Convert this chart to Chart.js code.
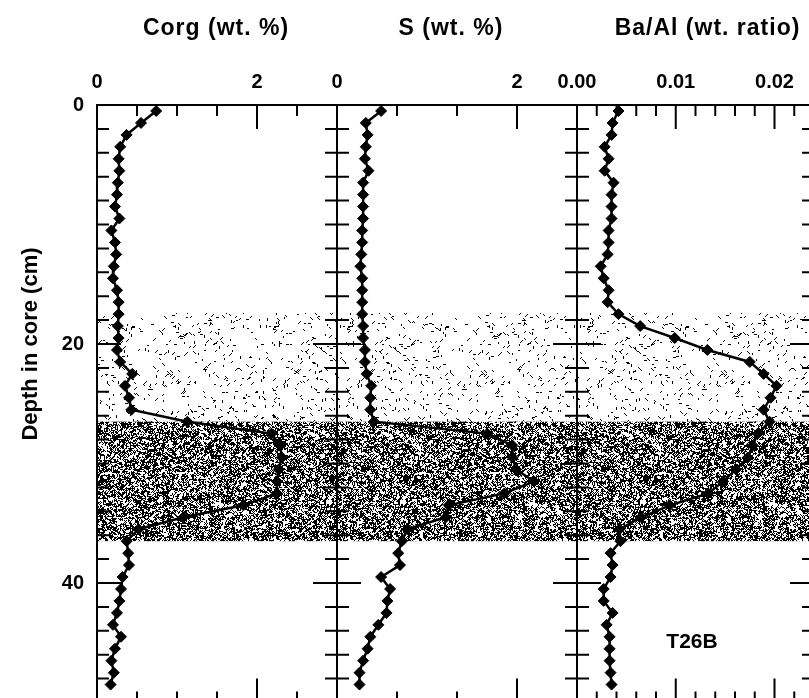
<!DOCTYPE html>
<html>
<head>
<meta charset="utf-8">
<title>T26B down-core profiles</title>
<script src="https://cdn.jsdelivr.net/npm/chart.js@4.4.1/dist/chart.umd.min.js"></script>
<style>
  html, body { margin: 0; padding: 0; background: #fff; overflow: hidden; }
  #fig { position: relative; width: 809px; height: 698px; overflow: hidden; background: #fff; }
  #fig canvas { position: absolute; top: 0; }
</style>
</head>
<body>
<div id="fig">
  <canvas id="panelCorg" width="360" height="712" style="left:0px"></canvas>
  <canvas id="panelS" width="286" height="712" style="left:314px"></canvas>
  <canvas id="panelBa" width="283" height="712" style="left:554px"></canvas>
</div>
<script>
// Sample depths, cm below the core top
const depthCm = [
  0.5, 1.5, 2.5, 3.5, 4.5, 5.5, 6.5, 7.5, 8.5, 9.5,
  10.5, 11.5, 12.5, 13.5, 14.5, 15.5, 16.5, 17.5, 18.5, 19.5,
  20.5, 21.5, 22.5, 23.5, 24.5, 25.5, 26.5, 27.5, 28.5, 29.5,
  30.5, 31.5, 32.5, 33.5, 34.5, 35.5, 36.5, 37.5, 38.5, 39.5,
  40.5, 41.5, 42.5, 43.5, 44.5, 45.5, 46.5, 47.5, 48.5
];
// Organic carbon, wt. %
const corg = [
  0.74, 0.55, 0.37, 0.29, 0.27, 0.28, 0.26, 0.25, 0.225, 0.28,
  0.18, 0.225, 0.24, 0.21, 0.20, 0.25, 0.27, 0.27, 0.26, 0.27,
  0.25, 0.29, 0.44, 0.35, 0.40, 0.43, 1.13, 2.18, 2.29, 2.31,
  2.27, 2.25, 2.25, 1.83, 1.08, 0.52, 0.37, 0.39, 0.40, 0.32,
  0.30, 0.28, 0.25, 0.20, 0.30, 0.225, 0.18, 0.21, 0.17
];
// Total sulfur, wt. %
const sulfur = [
  0.49, 0.32, 0.34, 0.32, 0.31, 0.35, 0.29, 0.29, 0.29, 0.29,
  0.28, 0.28, 0.27, 0.26, 0.28, 0.28, 0.28, 0.28, 0.29, 0.29,
  0.31, 0.31, 0.33, 0.38, 0.37, 0.37, 0.41, 1.67, 1.95, 1.95,
  1.99, 2.19, 1.86, 1.24, 1.21, 0.78, 0.72, 0.68, 0.70, 0.49,
  0.59, 0.56, 0.55, 0.46, 0.37, 0.34, 0.29, 0.25, 0.25
];
// Ba/Al, weight ratio
const baAl = [
  0.0042, 0.0036, 0.0035, 0.0028, 0.0032, 0.0028, 0.0037, 0.0035, 0.0035, 0.0035,
  0.0032, 0.0032, 0.0031, 0.0024, 0.0027, 0.0032, 0.0031, 0.0042, 0.0064, 0.0099,
  0.0132, 0.0175, 0.0189, 0.0202, 0.0196, 0.0189, 0.0195, 0.0183, 0.0178, 0.0173,
  0.0161, 0.0148, 0.0133, 0.0094, 0.0065, 0.0043, 0.0044, 0.0034, 0.0036, 0.0034,
  0.0027, 0.0027, 0.0036, 0.0030, 0.0033, 0.0033, 0.0033, 0.0034, 0.0035
];
// Axis labels
const panelTitles = ['Corg (wt. %)', 'S (wt. %)', 'Ba/Al (wt. ratio)'];
const depthTitle = 'Depth in core (cm)';
const depthLabels = [0, 20, 40];
const corgLabels = [0, 2];
const sulfurLabels = [0, 2];
const baAlLabels = [0, 0.01, 0.02];
const coreName = 'T26B';
// Shaded intervals (cm): lightly and densely stippled layers
const lightLayer = [17.4, 26.5];
const darkLayer = [26.5, 36.5];

const FONT = '"Liberation Sans", Arial, Helvetica, sans-serif';
Chart.defaults.font.family = FONT;
Chart.defaults.color = '#000';

// Seeded generator so the stipple texture is identical on every load
function seeded(seed) {
  return function () {
    seed |= 0; seed = seed + 0x6D2B79F5 | 0;
    let t = Math.imul(seed ^ seed >>> 15, 1 | seed);
    t = t + Math.imul(t ^ t >>> 7, 61 | t) ^ t;
    return ((t ^ t >>> 14) >>> 0) / 4294967296;
  };
}

// Tile of short black dashes used as a stipple fill
function makeStipple(ctx, size, count, seed) {
  const c = document.createElement('canvas');
  c.width = c.height = size;
  const g = c.getContext('2d');
  const img = g.createImageData(size, size);
  const d = img.data;
  const r = seeded(seed);
  const dirs = [[1, 0], [0, 1], [1, 1], [1, -1]];
  for (let i = 0; i < count; i++) {
    const x0 = Math.floor(r() * size), y0 = Math.floor(r() * size);
    const [dx, dy] = dirs[Math.floor(r() * 4)];
    const len = 2 + Math.floor(r() * 2);
    for (let k = 0; k < len; k++) {
      const px = (x0 + k * dx + size) % size, py = (y0 + k * dy + size) % size;
      const idx = (py * size + px) * 4;
      d[idx] = d[idx + 1] = d[idx + 2] = 0; d[idx + 3] = 255;
    }
  }
  g.putImageData(img, 0, 0);
  return ctx.createPattern(c, 'repeat');
}

// Stippled layers, frame with inward ticks, titles
const profileDecor = {
  id: 'profileDecor',
  beforeDatasetsDraw(chart) {
    const { ctx, chartArea: a, scales: { y } } = chart;
    if (!chart.$stipple) {
      chart.$stipple = { light: makeStipple(ctx, 240, 1200, 11), dark: makeStipple(ctx, 240, 19000, 29) };
    }
    ctx.save();
    ctx.beginPath();
    ctx.rect(a.left, a.top, a.right - a.left, a.bottom - a.top);
    ctx.clip();
    [[lightLayer, chart.$stipple.light], [darkLayer, chart.$stipple.dark]].forEach(([z, p]) => {
      const t = y.getPixelForValue(z[0]), b = y.getPixelForValue(z[1]);
      ctx.fillStyle = p;
      ctx.fillRect(a.left, t, a.right - a.left, b - t);
    });
    ctx.restore();
  },
  afterDatasetsDraw(chart, _args, o) {
    const { ctx, chartArea: a, scales: { x, y } } = chart;
    ctx.save();
    ctx.strokeStyle = '#000';
    ctx.lineWidth = 2;
    ctx.strokeRect(a.left, a.top, a.right - a.left, a.bottom - a.top);
    ctx.beginPath();
    x.ticks.forEach(t => {
      const px = x.getPixelForValue(t.value);
      if (px < a.left + 2 || px > a.right - 2) return;
      const len = t.label ? 24 : 11;
      ctx.moveTo(px, a.top); ctx.lineTo(px, a.top + len);
      ctx.moveTo(px, a.bottom); ctx.lineTo(px, a.bottom - len);
    });
    y.ticks.forEach(t => {
      const py = y.getPixelForValue(t.value);
      if (py < a.top + 2 || py > a.bottom - 2) return;
      const len = depthLabels.includes(t.value) ? 24 : 12;
      ctx.moveTo(a.left, py); ctx.lineTo(a.left + len, py);
      ctx.moveTo(a.right, py); ctx.lineTo(a.right - len, py);
    });
    ctx.stroke();

    ctx.fillStyle = '#000';
    ctx.textAlign = 'center';
    ctx.textBaseline = 'alphabetic';
    ctx.letterSpacing = '1px';
    ctx.font = 'bold 23px ' + FONT;
    ctx.fillText(o.title, (a.left + a.right) / 2 + o.titleShift, 35);
    ctx.letterSpacing = '0px';
    if (o.depthTitle) {
      ctx.save();
      ctx.translate(37, y.getPixelForValue(20));
      ctx.rotate(-Math.PI / 2);
      ctx.font = 'bold 22px ' + FONT;
      ctx.fillText(o.depthTitle, 0, 0);
      ctx.restore();
    }
    if (o.tag) {
      ctx.font = 'bold 21px ' + FONT;
      ctx.fillText(o.tag.text, x.getPixelForValue(o.tag.x), y.getPixelForValue(o.tag.depth));
    }
    ctx.restore();
  }
};

function near(list, v) { return list.some(l => Math.abs(l - v) < 1e-9); }

function buildPanel(canvasId, cfg) {
  const points = depthCm.map((d, i) => ({ x: cfg.values[i], y: d }));
  return new Chart(document.getElementById(canvasId), {
    type: 'scatter',
    data: {
      datasets: [{
        data: points,
        showLine: true,
        borderColor: '#000',
        borderWidth: 2.5,
        backgroundColor: '#000',
        pointStyle: 'rectRot',
        pointRadius: 5.5,
        pointBorderWidth: 1,
        tension: 0
      }]
    },
    options: {
      responsive: false,
      animation: false,
      devicePixelRatio: 1,
      events: [],
      layout: { padding: { left: cfg.padLeft, right: 23, top: 0, bottom: 9.5 } },
      plugins: {
        legend: { display: false },
        tooltip: { enabled: false },
        profileDecor: { title: cfg.title, titleShift: cfg.titleShift, depthTitle: cfg.depthTitle, tag: cfg.tag }
      },
      scales: {
        x: {
          type: 'linear',
          position: 'top',
          min: 0,
          max: cfg.max,
          grid: { display: false, drawTicks: false },
          border: { display: false },
          ticks: {
            stepSize: cfg.step,
            autoSkip: false,
            minRotation: 0,
            maxRotation: 0,
            padding: 11,
            font: { size: 20, weight: 'bold' },
            callback: v => near(cfg.labels, v) ? cfg.fmt(v) : ''
          },
          afterFit: s => { s.height = 105; s.paddingLeft = 0; s.paddingRight = 0; }
        },
        y: {
          type: 'linear',
          position: 'left',
          reverse: true,
          min: 0,
          max: 50,
          grid: { display: false, drawTicks: false },
          border: { display: false },
          ticks: {
            display: cfg.showDepth,
            stepSize: 2,
            autoSkip: false,
            padding: 13,
            font: { size: 20, weight: 'bold' },
            callback: v => depthLabels.includes(v) ? String(v) : ''
          },
          afterFit: s => { s.width = cfg.showDepth ? 97 : 0; s.paddingTop = 0; s.paddingBottom = 0; }
        }
      }
    },
    plugins: [profileDecor]
  });
}

buildPanel('panelCorg', {
  values: corg, max: 3, step: 0.5, labels: corgLabels, fmt: v => String(v),
  title: panelTitles[0], titleShift: -1, padLeft: 0, showDepth: true, depthTitle: depthTitle
});
buildPanel('panelS', {
  values: sulfur, max: 8 / 3, step: 2 / 3, labels: sulfurLabels, fmt: v => String(Math.round(v)),
  title: panelTitles[1], titleShift: -6, padLeft: 23, showDepth: false
});
buildPanel('panelBa', {
  values: baAl, max: 0.024, step: 0.002, labels: baAlLabels, fmt: v => v.toFixed(2),
  title: panelTitles[2], titleShift: 12, padLeft: 23, showDepth: false,
  tag: { text: coreName, x: 0.01165, depth: 45.4 }
});
</script>
</body>
</html>
